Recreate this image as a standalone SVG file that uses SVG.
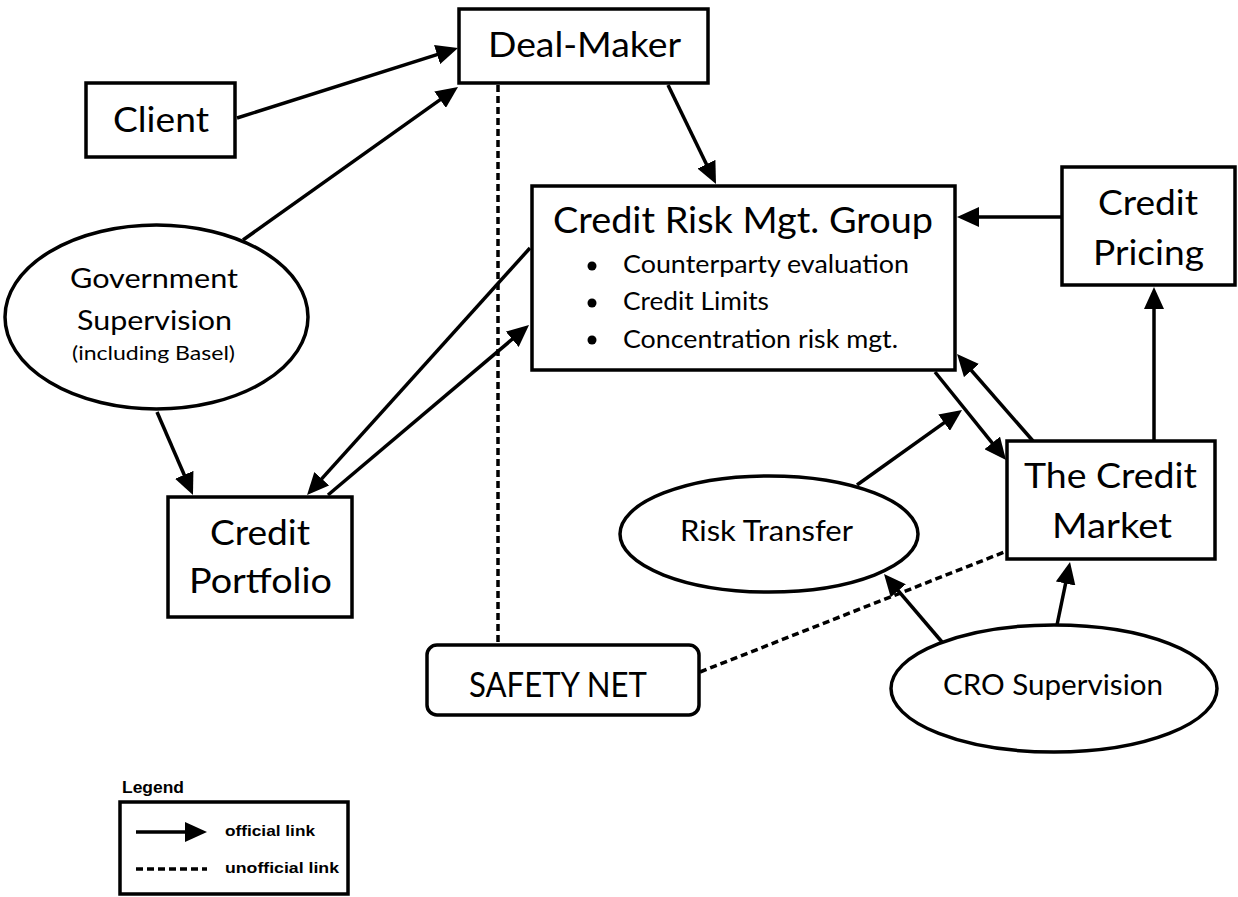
<svg xmlns="http://www.w3.org/2000/svg" width="1238" height="897" viewBox="0 0 1238 897">
<style>
.box{fill:#fff;stroke:#000;stroke-width:3.5}
.ell{fill:#fff;stroke:#000;stroke-width:3.5}
.t{font-family:Lato,"Open Sans","Liberation Sans",sans-serif;fill:#000}
.lg{font-family:"Liberation Sans",Arial,sans-serif;font-weight:bold;fill:#000}
.c{fill:none;stroke:#000;stroke-width:3.5}
.a{marker-end:url(#ah)}
.d{fill:none;stroke:#000;stroke-width:3.5;stroke-dasharray:7 4}
</style>
<defs>
<marker id="ah" markerUnits="userSpaceOnUse" markerWidth="22" markerHeight="20" refX="14" refY="10" orient="auto">
<path d="M0,0 L22,10 L0,20 z" fill="#000"/>
</marker>
</defs>
<rect width="1238" height="897" fill="#fff"/>
<g id="connectors">
<line class="c a" x1="237" y1="118" x2="450.4" y2="50.4"/>
<line class="c a" x1="243" y1="240" x2="451.5" y2="91.6"/>
<line class="c a" x1="668" y1="85" x2="712.5" y2="176.8"/>
<line class="c a" x1="1062" y1="217" x2="965" y2="217"/>
<line class="c a" x1="1154" y1="441" x2="1154" y2="295"/>
<line class="c a" x1="935" y1="372" x2="1001" y2="453.8"/>
<line class="c a" x1="1033" y1="441" x2="962.3" y2="360"/>
<line class="c a" x1="857" y1="485" x2="955.5" y2="414.6"/>
<line class="c a" x1="942" y1="642" x2="889.2" y2="580.1"/>
<line class="c a" x1="1057" y1="625" x2="1068.4" y2="569.8"/>
<line class="c a" x1="157" y1="412" x2="189.8" y2="487.7"/>
<line class="c a" x1="530" y1="248" x2="312.4" y2="489.1"/>
<line class="c a" x1="328" y1="495" x2="522.9" y2="330.2"/>
<line class="d" x1="498" y1="85" x2="498" y2="643" stroke-dasharray="6 4"/>
<line class="d" x1="700" y1="672" x2="1007" y2="551"/>
</g>
<g id="deal-maker">
<rect class="box" x="459" y="9" width="249" height="74"/>
<text class="t" x="488" y="57" font-size="35" textLength="193" lengthAdjust="spacingAndGlyphs">Deal-Maker</text>
</g>
<g id="client">
<rect class="box" x="86" y="83" width="149" height="74"/>
<text class="t" x="113" y="132" font-size="35" textLength="96" lengthAdjust="spacingAndGlyphs">Client</text>
</g>
<g id="government-supervision">
<ellipse class="ell" cx="156.5" cy="317" rx="151.5" ry="92"/>
<text class="t" x="70" y="288" font-size="26" textLength="168" lengthAdjust="spacingAndGlyphs">Government</text>
<text class="t" x="77" y="330" font-size="26" textLength="155" lengthAdjust="spacingAndGlyphs">Supervision</text>
<text class="t" x="72" y="360" font-size="20" textLength="163" lengthAdjust="spacingAndGlyphs">(including Basel)</text>
</g>
<g id="credit-risk-mgt-group">
<rect class="box" x="532" y="186" width="423" height="184"/>
<text class="t" x="553" y="233" font-size="36" textLength="380" lengthAdjust="spacingAndGlyphs">Credit Risk Mgt. Group</text>
<circle cx="592" cy="266" r="4.5" fill="#000"/>
<circle cx="592" cy="303" r="4.5" fill="#000"/>
<circle cx="592" cy="340" r="4.5" fill="#000"/>
<text class="t" x="623" y="273" font-size="25" textLength="286" lengthAdjust="spacingAndGlyphs">Counterparty evaluation</text>
<text class="t" x="623" y="310" font-size="25" textLength="146" lengthAdjust="spacingAndGlyphs">Credit Limits</text>
<text class="t" x="623" y="348" font-size="25" textLength="275" lengthAdjust="spacingAndGlyphs">Concentration risk mgt.</text>
</g>
<g id="credit-pricing">
<rect class="box" x="1062" y="167" width="173" height="118"/>
<text class="t" x="1098" y="215" font-size="35" textLength="100" lengthAdjust="spacingAndGlyphs">Credit</text>
<text class="t" x="1093" y="265" font-size="35" textLength="111" lengthAdjust="spacingAndGlyphs">Pricing</text>
</g>
<g id="credit-market">
<rect class="box" x="1007" y="441" width="208" height="118"/>
<text class="t" x="1024" y="488" font-size="35" textLength="173" lengthAdjust="spacingAndGlyphs">The Credit</text>
<text class="t" x="1052" y="538" font-size="35" textLength="120" lengthAdjust="spacingAndGlyphs">Market</text>
</g>
<g id="credit-portfolio">
<rect class="box" x="168" y="497" width="184" height="120"/>
<text class="t" x="210" y="545" font-size="35" textLength="100" lengthAdjust="spacingAndGlyphs">Credit</text>
<text class="t" x="189" y="593" font-size="35" textLength="143" lengthAdjust="spacingAndGlyphs">Portfolio</text>
</g>
<g id="risk-transfer">
<ellipse class="ell" cx="769" cy="534" rx="149" ry="58"/>
<text class="t" x="680" y="541" font-size="29" textLength="173" lengthAdjust="spacingAndGlyphs">Risk Transfer</text>
</g>
<g id="safety-net">
<rect class="box" x="427" y="645" width="272" height="70" rx="10" ry="10"/>
<text class="t" x="469" y="697" font-size="34" textLength="178" lengthAdjust="spacingAndGlyphs">SAFETY NET</text>
</g>
<g id="cro-supervision">
<ellipse class="ell" cx="1054" cy="688.5" rx="163" ry="63.5"/>
<text class="t" x="943" y="695" font-size="29" textLength="220" lengthAdjust="spacingAndGlyphs">CRO Supervision</text>
</g>
<g id="legend">
<text class="lg" x="122" y="793" font-size="16" textLength="62" lengthAdjust="spacingAndGlyphs">Legend</text>
<rect class="box" x="120" y="802" width="228" height="92"/>
<line class="c a" x1="136" y1="832" x2="199" y2="832"/>
<text class="lg" x="225" y="836" font-size="15" textLength="90" lengthAdjust="spacingAndGlyphs">official link</text>
<line class="d" x1="136" y1="869" x2="207" y2="869" stroke-dasharray="8 4"/>
<text class="lg" x="225" y="873" font-size="15" textLength="114" lengthAdjust="spacingAndGlyphs">unofficial link</text>
</g>
</svg>
